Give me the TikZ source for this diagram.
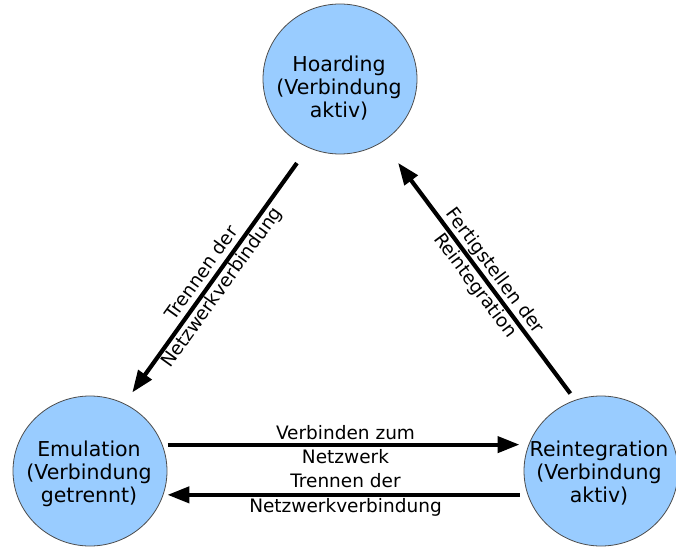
\documentclass[tikz,border=0pt]{standalone}
\usepackage{fontspec}
\setmainfont{DejaVu Sans}
\usetikzlibrary{arrows.meta,shapes.geometric}
\definecolor{statefill}{HTML}{99CCFF}
\definecolor{stateline}{HTML}{4D4D4D}

\begin{document}
\begin{tikzpicture}[x=1pt,y=-1pt,
  state/.style={ellipse, draw=stateline, line width=0.8pt, fill=statefill,
    minimum width=154pt, minimum height=150pt, inner sep=0pt},
  statetext/.style={align=center, font=\fontsize{20.5}{23}\selectfont, inner sep=0pt},
  trans/.style={line width=4.2pt, -{Triangle[length=22pt,width=16pt]}},
  translabel/.style={align=center, font=\fontsize{18.5}{24.5}\selectfont, inner sep=0pt}
]
\fill[white] (0,0) rectangle (676,548);
\useasboundingbox (0,0) rectangle (676,548);

% states
\node[state] (hoard) at (340,79) {};
\node[state] (emu) at (90,471) {};
\node[state] (reint) at (601,471) {};
\node[statetext] (hoardtxt) at (339,88) {Hoarding\\(Verbindung\\aktiv)};
\node[statetext] (emutxt) at (89,474) {Emulation\\(Verbindung\\getrennt)};
\node[statetext] (reinttxt) at (599,473) {Reintegration\\(Verbindung\\aktiv)};

% transitions
\draw[trans, shorten <=19pt, shorten >=13.5pt] (hoard.245) -- (emu.63)
  node[translabel, sloped, pos=0.52] {Trennen der\\Netzwerkverbindung};
\draw[trans, shorten <=8pt, shorten >=26pt] (reint.110) -- (hoard.304)
  node[translabel, sloped, pos=0.47] {Fertigstellen der\\Reintegration};
\draw[trans, shorten <=5pt, shorten >=9pt] (emu.20) -- (reint.160)
  node[translabel, midway] {Verbinden zum\\Netzwerk};
\draw[trans, shorten <=8pt, shorten >=4pt] (reint.198) -- (emu.342)
  node[translabel, midway] {Trennen der\\Netzwerkverbindung};
\end{tikzpicture}
\end{document}
